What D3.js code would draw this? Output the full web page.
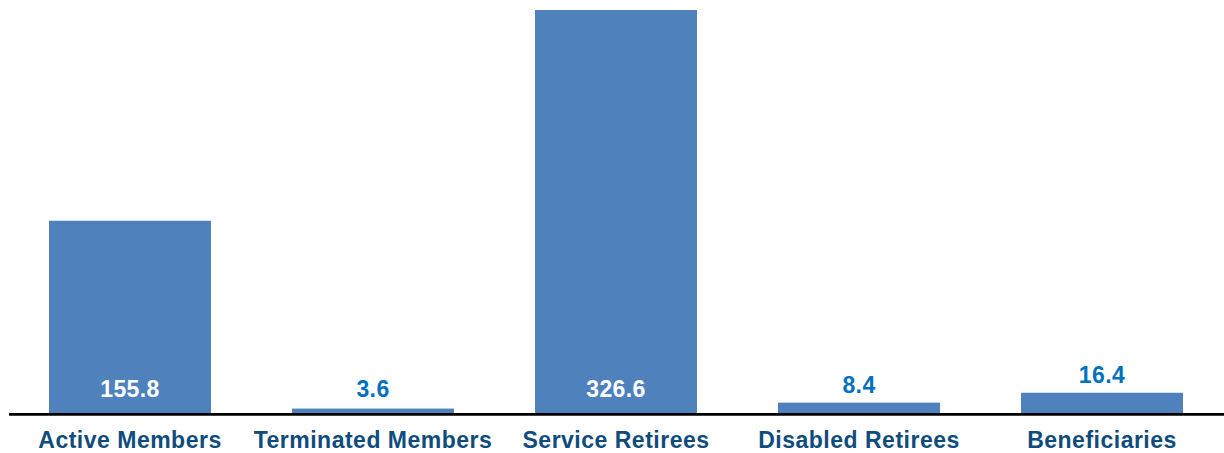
<!DOCTYPE html>
<html>
<head>
<meta charset="utf-8">
<script src="https://cdn.jsdelivr.net/npm/d3@7"></script>
<style>
  html, body { margin: 0; padding: 0; background: #ffffff; }
  svg { display: block; }
  text { font-family: "Liberation Sans", Arial, sans-serif; font-weight: bold; }
</style>
</head>
<body>
<svg id="chart" width="1224" height="453"></svg>
<script>
// Member counts by status (in thousands)
const categories = ["Active Members", "Terminated Members", "Service Retirees", "Disabled Retirees", "Beneficiaries"];
const values = [155.8, 3.6, 326.6, 8.4, 16.4];
const valueLabels = ["155.8", "3.6", "326.6", "8.4", "16.4"];

const W = 1224, H = 453;
const baseline = 413;

const svg = d3.select("#chart");

const x = d3.scaleBand()
  .domain(categories)
  .range([8.5, 1223.5])
  .paddingInner(1 / 3)
  .paddingOuter(1 / 6);

const y = d3.scaleLinear()
  .domain([0, 326.6])
  .range([baseline, 10]);

const data = categories.map((c, i) => ({ cat: c, value: values[i], label: valueLabels[i] }));

// Bars
svg.append("g")
  .selectAll("rect")
  .data(data)
  .join("rect")
  .attr("x", d => x(d.cat))
  .attr("y", d => y(d.value))
  .attr("width", x.bandwidth())
  .attr("height", d => y(0) - y(d.value))
  .attr("fill", "#4f81bd");

// Value labels: inside the bar base when tall enough, otherwise just above it
const insideMin = 40;
svg.append("g")
  .selectAll("text")
  .data(data)
  .join("text")
  .attr("x", d => x(d.cat) + x.bandwidth() / 2)
  .attr("y", d => (y(0) - y(d.value)) > insideMin ? y(0) - 16 : Math.min(y(0) - 16, y(d.value) - 10))
  .attr("text-anchor", "middle")
  .attr("font-size", 23)
  .attr("letter-spacing", 0.4)
  .attr("fill", d => (y(0) - y(d.value)) > insideMin ? "#ffffff" : "#0070c0")
  .text(d => d.label);

// Category axis
const axis = svg.append("g")
  .attr("transform", `translate(0,${baseline})`)
  .call(d3.axisBottom(x).tickSize(0).tickPadding(0));
axis.select(".domain").remove();
axis.append("line")
  .attr("x1", 9).attr("x2", W)
  .attr("y1", 1.3).attr("y2", 1.3)
  .attr("stroke", "#000000")
  .attr("stroke-width", 2.7);
axis.selectAll(".tick text")
  .attr("y", 35.3)
  .attr("dy", 0)
  .attr("font-size", 23)
  .attr("letter-spacing", 0.5)
  .attr("font-weight", "bold")
  .attr("font-family", "\"Liberation Sans\", Arial, sans-serif")
  .attr("fill", "#0f4c7e");
</script>
</body>
</html>
